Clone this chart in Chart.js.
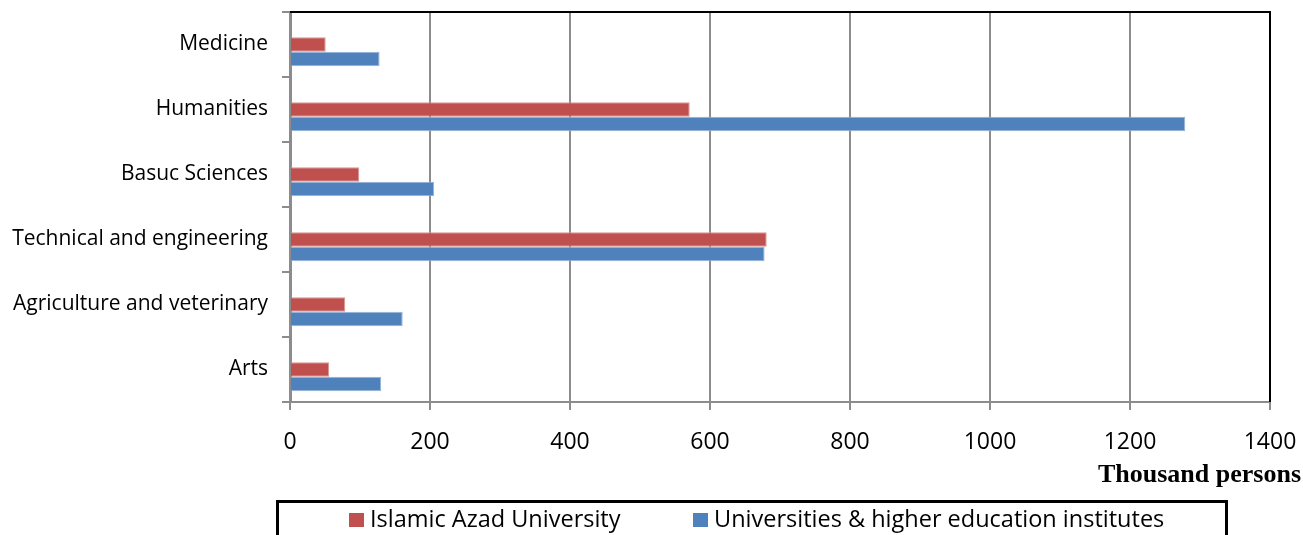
<!DOCTYPE html>
<html>
<head>
<meta charset="utf-8">
<script src="https://cdn.jsdelivr.net/npm/chart.js@4/dist/chart.umd.min.js"></script>
<style>
  html, body { margin: 0; padding: 0; background: #fff; }
  #wrap { width: 1303px; height: 535px; position: relative; }
</style>
</head>
<body>
<div id="wrap"><canvas id="c" width="1303" height="535"></canvas></div>
<script>
const categories = ["Medicine", "Humanities", "Basuc Sciences", "Technical and engineering", "Agriculture and veterinary", "Arts"];
const seriesNames = ["Islamic Azad University", "Universities & higher education institutes"];
const azadValues = [51, 571, 99, 681, 79, 56];
const universityValues = [128, 1279, 206, 678, 161, 130];
const emptySeries = [null, null, null, null, null, null];
const xTicks = [0, 200, 400, 600, 800, 1000, 1200, 1400];
const axisTitle = "Thousand persons";
const colors = ["#C0504D", "#4F81BD"];

const frameAndLegend = {
  id: 'frameAndLegend',
  afterDraw(chart) {
    const ctx = chart.ctx;
    const a = chart.chartArea;
    ctx.save();
    // top and right borders
    ctx.strokeStyle = '#000';
    ctx.lineWidth = 2;
    ctx.beginPath();
    ctx.moveTo(a.left, a.top);
    ctx.lineTo(a.right, a.top);
    ctx.lineTo(a.right, a.bottom);
    ctx.stroke();
    // axis title
    ctx.fillStyle = '#000';
    ctx.font = 'bold 26px "Liberation Serif"';
    ctx.textAlign = 'right';
    ctx.textBaseline = 'alphabetic';
    ctx.fillText(axisTitle, 1301, 482);
    // legend box
    ctx.lineWidth = 3;
    ctx.strokeRect(277.5, 501.5, 949, 60);
    ctx.font = '23.5px "Open Sans"';
    ctx.textAlign = 'left';
    ctx.textBaseline = 'middle';
    const items = [{x: 349, tx: 370}, {x: 693, tx: 714}];
    chart.data.datasets.slice(1).forEach((ds, i) => {
      ctx.fillStyle = ds.backgroundColor;
      ctx.fillRect(items[i].x, 513, 15, 14);
      ctx.fillStyle = '#000';
      ctx.fillText(ds.label, items[i].tx, 520);
    });
    ctx.restore();
  }
};

new Chart(document.getElementById('c'), {
  type: 'bar',
  data: {
    labels: categories,
    datasets: [
      { label: '', data: emptySeries, backgroundColor: 'rgba(0,0,0,0)' },
      { label: seriesNames[0], data: azadValues, backgroundColor: colors[0], borderColor: '#d99694', borderWidth: {right: 1, top: 1, bottom: 1, left: 0} },
      { label: seriesNames[1], data: universityValues, backgroundColor: colors[1], borderColor: '#95b3d7', borderWidth: {right: 1, top: 1, bottom: 1, left: 0} }
    ]
  },
  options: {
    indexAxis: 'y',
    responsive: false,
    animation: false,
    devicePixelRatio: 1,
    layout: { padding: { top: 12, right: 33, left: 0, bottom: 0 } },
    datasets: { bar: { categoryPercentage: 0.669, barPercentage: 1 } },
    plugins: { legend: { display: false }, tooltip: { enabled: false } },
    scales: {
      x: {
        min: 0, max: 1400,
        afterFit(s) { s.height = 133; s.paddingLeft = 0; s.paddingRight = 0; },
        afterBuildTicks(s) { s.ticks = xTicks.map(v => ({ value: v })); },
        ticks: { color: '#000', font: { family: '"Open Sans"', size: 23 }, padding: 19, maxRotation: 0,
                 callback: (v) => String(v) },
        grid: { color: '#8c8c8c', lineWidth: 2, tickLength: 8, drawTicks: true },
        border: { color: '#8c8c8c', width: 2 }
      },
      y: {
        afterFit(s) { s.width = 290; s.paddingTop = 0; s.paddingBottom = 0; },
        ticks: { color: '#000', font: { family: '"Open Sans"', size: 21 }, padding: 14 },
        grid: { drawOnChartArea: false, color: '#8c8c8c', lineWidth: 2, tickLength: 8, offset: true },
        border: { color: '#8c8c8c', width: 3 }
      }
    }
  },
  plugins: [frameAndLegend]
});
</script>
</body>
</html>
